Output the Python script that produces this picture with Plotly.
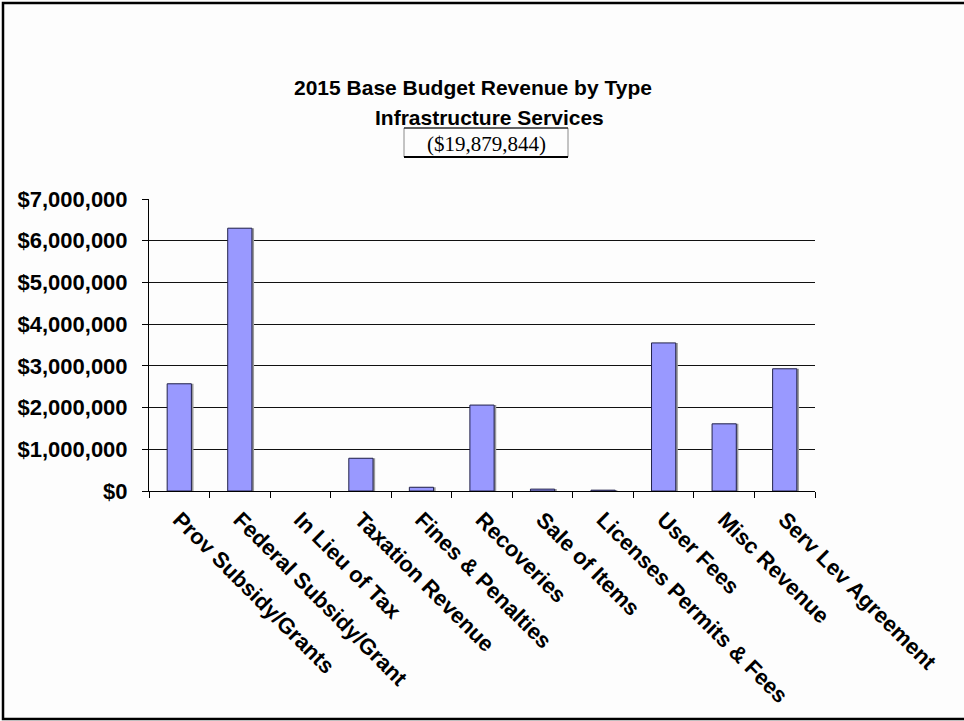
import plotly.graph_objects as go

# Revenue categories and 2015 base budget amounts (Infrastructure Services)
categories = [
    "Prov Subsidy/Grants",
    "Federal Subsidy/Grant",
    "In Lieu of Tax",
    "Taxation Revenue",
    "Fines & Penalties",
    "Recoveries",
    "Sale of Items",
    "Licenses Permits & Fees",
    "User Fees",
    "Misc Revenue",
    "Serv Lev Agreement",
]
revenue = [2570000, 6300000, 0, 785000, 90000, 2060000, 45000, 20000, 3550000, 1610000, 2930000]

y_tick_values = [0, 1000000, 2000000, 3000000, 4000000, 5000000, 6000000, 7000000]
y_tick_labels = ["$0", "$1,000,000", "$2,000,000", "$3,000,000", "$4,000,000",
                 "$5,000,000", "$6,000,000", "$7,000,000"]

title_line1 = "2015 Base Budget Revenue by Type"
title_line2 = "Infrastructure Services"
total_label = "($19,879,844)"

# Page and plot-area geometry (pixels)
W, H = 964, 721
PL, PR, PT, PB = 149, 815, 199, 491


def px(x):
    return (x - PL) / (PR - PL)


def py(y):
    return (PB - y) / (PB - PT)


BAR_W = 0.4
SHADOW_SHIFT = 0.035
SANS = "Liberation Sans, Arial, sans-serif"

# empty categories get no outline so nothing is drawn at zero
outline_widths = [1 if v > 0 else 0 for v in revenue]

fig = go.Figure()

# soft grey drop shadow on the right of each bar
fig.add_trace(go.Bar(
    x=categories, y=revenue, width=BAR_W, offset=-BAR_W / 2 + SHADOW_SHIFT,
    marker=dict(color="#9a9a9a", line=dict(width=0)),
    hoverinfo="skip", showlegend=False,
))
fig.add_trace(go.Bar(
    x=categories, y=revenue, width=BAR_W, offset=-BAR_W / 2,
    marker=dict(color="#9999FF", line=dict(color="#22224a", width=outline_widths)),
    showlegend=False,
))

fig.update_layout(
    width=W, height=H,
    margin=dict(l=PL, r=W - PR, t=PT, b=H - PB, pad=0, autoexpand=False),
    paper_bgcolor="#fdfdfd",
    plot_bgcolor="#fdfdfd",
    barmode="overlay",
    font=dict(family=SANS, size=20, color="#000000"),
    xaxis=dict(
        type="category",
        automargin=False,
        showline=True, linecolor="#000000", linewidth=1,
        ticks="outside", ticklen=6, tickcolor="#000000", tickwidth=1,
        tickson="boundaries",
        tickangle=45,
        ticklabelstandoff=6,
        tickfont=dict(family=SANS, size=22, color="#000000", weight="bold"),
        showgrid=False,
    ),
    yaxis=dict(
        range=[0, 7000000],
        automargin=False,
        tickvals=y_tick_values, ticktext=y_tick_labels,
        showline=True, linecolor="#000000", linewidth=1,
        ticks="outside", ticklen=6, tickcolor="#000000", tickwidth=1,
        ticklabelstandoff=10,
        tickfont=dict(family=SANS, size=22, color="#000000", weight="bold"),
        showgrid=True, gridcolor="#111111", gridwidth=1,
        zeroline=False,
    ),
)

# Title lines
fig.add_annotation(text="<b>" + title_line1 + "</b>", xref="paper", yref="paper",
                   x=px(473), y=py(88), xanchor="center", yanchor="middle",
                   showarrow=False, font=dict(family=SANS, size=21, color="#000000"))
fig.add_annotation(text="<b>" + title_line2 + "</b>", xref="paper", yref="paper",
                   x=px(489), y=py(117), xanchor="center", yanchor="middle",
                   showarrow=False, font=dict(family=SANS, size=21, color="#000000"))
fig.add_annotation(text=total_label, xref="paper", yref="paper",
                   x=px(486), y=py(144), xanchor="center", yanchor="middle",
                   showarrow=False, font=dict(family="Liberation Serif, Times New Roman, serif",
                                              size=21, color="#000000"))

# Box around the total
fig.add_shape(type="rect", xref="paper", yref="paper",
              x0=px(404), x1=px(568), y0=py(157), y1=py(128),
              line=dict(color="#8a8a8a", width=1))
fig.add_shape(type="line", xref="paper", yref="paper",
              x0=px(404), x1=px(568), y0=py(128), y1=py(128),
              line=dict(color="#000000", width=1))
fig.add_shape(type="line", xref="paper", yref="paper",
              x0=px(404), x1=px(568), y0=py(157), y1=py(157),
              line=dict(color="#000000", width=2))

# Outer frame around the chart
fig.add_shape(type="rect", xref="paper", yref="paper",
              x0=px(3), x1=px(975), y0=py(719), y1=py(3),
              line=dict(color="#000000", width=2.5))

fig.write_html("out.html")
